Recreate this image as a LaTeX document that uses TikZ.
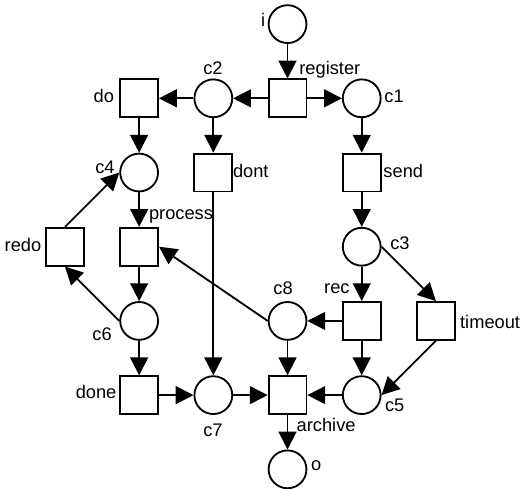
\documentclass[tikz,border=0pt]{standalone}
\usepackage{fontspec}
\setmainfont{Liberation Sans}
\usetikzlibrary{arrows.meta}

\begin{document}
\begin{tikzpicture}[>={Triangle[length=4.8mm,width=4.8mm]}, line width=1.4pt]
  \tikzstyle{every node}=[font=\fontsize{14}{16}\selectfont]
  \tikzstyle{place}=[draw,circle,minimum size=1.02cm,inner sep=0pt]
  \tikzstyle{trans}=[draw,rectangle,minimum size=1.02cm,inner sep=0pt]
  \tikzstyle{lbl}=[inner sep=0pt]
  \useasboundingbox (-1.75,0.65) rectangle (12.32,-12.51);

 % places and transitions
 \node[place] (i) at (6,0) {};
 \node[trans] (register) at (6,-2) {};
 \node[place] (c2) at (4,-2) {};
 \node[place] (c1) at (8,-2) {};
 \node[trans] (do) at (2,-2) {};
 \node[place] (c4) at (2,-4) {};
 \node[trans] (dont) at (4,-4) {};
 \node[trans] (send) at (8,-4) {};
 \node[trans] (redo) at (0,-6) {};
 \node[trans] (process) at (2,-6) {};
 \node[place] (c3) at (8,-6) {};
 \node[place] (c6) at (2,-8) {};
 \node[place] (c8) at (6,-8) {};
 \node[trans] (rec) at (8,-8) {};
 \node[trans] (timeout) at (10,-8) {};
 \node[trans] (done) at (2,-10) {};
 \node[place] (c7) at (4,-10) {};
 \node[trans] (archive) at (6,-10) {};
 \node[place] (c5) at (8,-10) {};
 \node[place] (o) at (6,-12) {};

 % labels
 \node[lbl] (i-l) at (5.34,0.11) {i};
 \node[lbl] (register-l) at (7.14,-1.24) {register};
 \node[lbl] (c2-l) at (3.99,-1.19) {c2};
 \node[lbl] (c1-l) at (8.87,-1.94) {c1};
 \node[lbl] (do-l) at (1.05,-1.94) {do};
 \node[lbl] (c4-l) at (1.08,-3.85) {c4};
 \node[lbl] (dont-l) at (5.01,-3.96) {dont};
 \node[lbl] (send-l) at (9.12,-3.95) {send};
 \node[lbl] (process-l) at (3.13,-5.19) {process};
 \node[lbl] (redo-l) at (-1.13,-5.96) {redo};
 \node[lbl] (c3-l) at (9.03,-5.90) {c3};
 \node[lbl] (c8-l) at (5.88,-7.12) {c8};
 \node[lbl] (rec-l) at (7.33,-7.14) {rec};
 \node[lbl] (timeout-l) at (11.46,-8.03) {timeout};
 \node[lbl] (c6-l) at (1.0,-8.36) {c6};
 \node[lbl] (done-l) at (0.84,-9.92) {done};
 \node[lbl] (c7-l) at (3.99,-10.94) {c7};
 \node[lbl] (c5-l) at (8.89,-10.27) {c5};
 \node[lbl] (archive-l) at (7.04,-10.81) {archive};
 \node[lbl] (o-l) at (6.77,-11.91) {o};

 \draw [->] (i) -- (register);
 \draw [->] (register) -- (c2);
 \draw [->] (register) -- (c1);
 \draw [->] (c2) -- (do);
 \draw [->] (c2) -- (dont);
 \draw [->] (c1) -- (send);
 \draw [->] (do) -- (c4);
 \draw [->] (c4) -- (process);
 \draw [->] (redo.north) -- (c4.west);
 \draw [->] (process) -- (c6);
 \draw [->] (c6.west) -- (redo.south);
 \draw [->] (c6) -- (done);
 \draw [->] (done) -- (c7);
 \draw [->] (dont) -- (c7);
 \draw [->] (c7) -- (archive);
 \draw [->] (send) -- (c3);
 \draw [->] (c3) -- (rec);
 \draw [->] (c3.east) -- (timeout.north);
 \draw [->] (rec) -- (c8);
 \draw [->] (rec) -- (c5);
 \draw [->] (c8.west) -- (process.east);
 \draw [->] (c8) -- (archive);
 \draw [->] (timeout.south) -- (c5.east);
 \draw [->] (c5) -- (archive);
 \draw [->] (archive) -- (o);


\end{tikzpicture}
\end{document}
